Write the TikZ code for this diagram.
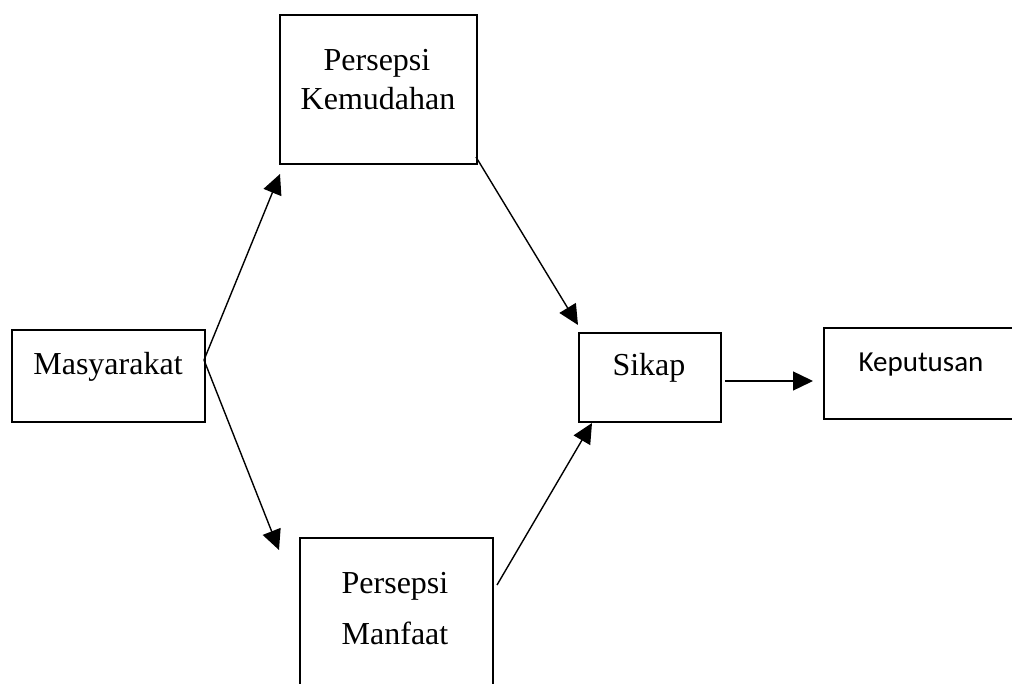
\documentclass[tikz,border=0pt]{standalone}
\usepackage{fontspec}
\setmainfont{Liberation Serif}
\newfontfamily\calib{Carlito}
\usetikzlibrary{arrows.meta}
\begin{document}
\begin{tikzpicture}[x=1pt,y=-1pt,
  box/.style={draw,line width=2.2pt,inner sep=0pt,anchor=north west},
  lbl/.style={font=\fontsize{32}{39}\selectfont,anchor=base,inner sep=0pt},
  klbl/.style={font=\calib\fontsize{29}{35}\selectfont,anchor=base,inner sep=0pt},
  arr/.style={line width=1.4pt,-{Triangle[length=20pt,width=19pt]}}]
\useasboundingbox (0,0) rectangle (1012,684);
\clip (0,0) rectangle (1012,684);
% boxes
\node[box,minimum width=193pt,minimum height=92pt] (mas) at (11,329) {};
\node[box,minimum width=197pt,minimum height=149pt] (pk) at (279,14) {};
\node[box,minimum width=142pt,minimum height=89pt] (sik) at (578,332) {};
\node[box,minimum width=210pt,minimum height=91pt] (kep) at (823,327) {};
\node[box,minimum width=193pt,minimum height=170pt] (pm) at (299,537) {};
% labels
\node[lbl] (mast) at (108,375) {Masyarakat};
\node[lbl] (pkt1) at (377,71) {Persepsi};
\node[lbl] (pkt2) at (378,110) {Kemudahan};
\node[lbl] (sikt) at (649,376) {Sikap};
\node[lbl] (pmt1) at (395,593) {Persepsi};
\node[lbl] (pmt2) at (395,644) {Manfaat};
\node[klbl] (kept) at (921,372) {Keputusan};
% connector ends
\coordinate (m0) at (204,360);
\coordinate (pkin) at (280,174);
\coordinate (pmin) at (279,550);
\coordinate (pkout) at (476,157);
\coordinate (sikin1) at (578,325);
\coordinate (pmout) at (497,585);
\coordinate (sikin2) at (592,423);
\coordinate (sikout) at (725,381);
\coordinate (kepin) at (813,381);
% arrows
\draw[arr] (m0) -- (pkin);
\draw[arr] (m0) -- (pmin);
\draw[arr] (pkout) -- (sikin1);
\draw[arr] (pmout) -- (sikin2);
\draw[arr] (sikout) -- (kepin);
\end{tikzpicture}
\end{document}
